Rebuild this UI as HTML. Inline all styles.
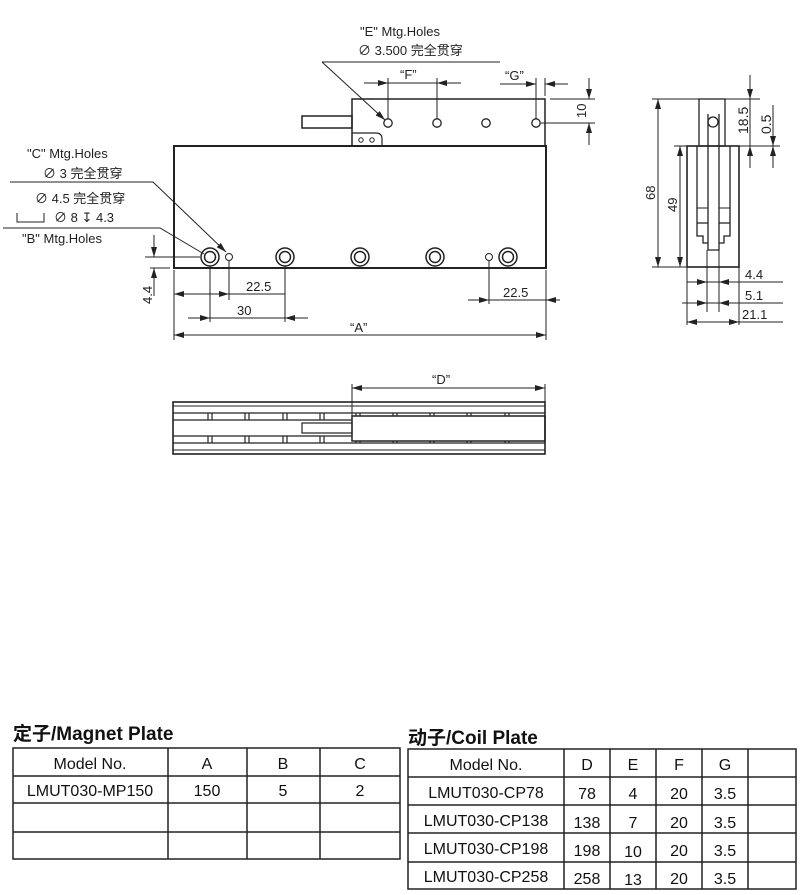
<!DOCTYPE html>
<html><head><meta charset="utf-8"><style>
html,body{margin:0;padding:0;background:#fff;}
svg{display:block;font-family:"Liberation Sans","Noto Sans CJK SC",sans-serif;}
</style></head><body>
<svg width="801" height="895" viewBox="0 0 801 895" xmlns="http://www.w3.org/2000/svg">
<defs>
<marker id="a" viewBox="0 0 10 6" refX="10" refY="3" markerWidth="10" markerHeight="6" orient="auto-start-reverse" markerUnits="userSpaceOnUse"><path d="M0,0 L10,3 L0,6z" fill="#222"/></marker>
</defs>
<g stroke="#222" fill="none" stroke-width="1">
<rect x="174" y="146" width="372" height="122" stroke-width="2"/>
<rect x="352" y="99" width="193" height="47" stroke-width="1.5"/>
<rect x="302" y="116" width="50" height="12" stroke-width="1.5"/>
<path d="M352,133 H376 Q382,133 382,139 V146" stroke-width="1.2"/>
<circle cx="361" cy="140" r="2.2"/><circle cx="372" cy="140" r="2.2"/>
<circle cx="388" cy="123" r="4.2" stroke-width="1.3"/>
<circle cx="437" cy="123" r="4.2" stroke-width="1.3"/>
<circle cx="486" cy="123" r="4.2" stroke-width="1.3"/>
<circle cx="536" cy="123" r="4.2" stroke-width="1.3"/>
<g stroke-width="1.5">
<circle cx="210" cy="257" r="9"/><circle cx="210" cy="257" r="5.5"/>
<circle cx="285" cy="257" r="9"/><circle cx="285" cy="257" r="5.5"/>
<circle cx="360" cy="257" r="9"/><circle cx="360" cy="257" r="5.5"/>
<circle cx="435" cy="257" r="9"/><circle cx="435" cy="257" r="5.5"/>
<circle cx="508" cy="257" r="9"/><circle cx="508" cy="257" r="5.5"/>
</g>
<circle cx="229" cy="257" r="3.5"/><circle cx="489" cy="257" r="3.5"/>
<path d="M322,62 H500"/><path d="M322,62 L385,120" marker-end="url(#a)"/>
<path d="M10,182 H153 L226,252" marker-end="url(#a)"/>
<path d="M3,228 H160 L204,254" />
<path d="M17,213 V222 H44 V213"/>
<path d="M364,83 H388" marker-end="url(#a)"/><path d="M461,83 H437" marker-end="url(#a)"/>
<path d="M388,83 H437"/>
<path d="M388,78 V119 M437,78 V119"/>
<path d="M500,84 H536" marker-end="url(#a)"/><path d="M568,84 H545" marker-end="url(#a)"/>
<path d="M536,78 V119 M545,78 V96"/>
<path d="M550,99 H595 M541,123 H595"/>
<path d="M589,78 V99" marker-end="url(#a)"/><path d="M589,145 V123" marker-end="url(#a)"/>
<path d="M145,257 H200 M150,268 H170"/>
<path d="M154,235 V257" marker-end="url(#a)"/><path d="M154,296 V268" marker-end="url(#a)"/>
<path d="M174,270 V340 M546,270 V340 M210,266 V322 M285,266 V322 M229,261 V300 M489,261 V304"/>
<path d="M174,294 H285"/><path d="M200,294 H174" marker-end="url(#a)"/><path d="M205,294 H229" marker-end="url(#a)"/>
<path d="M188,318 H308"/><path d="M188,318 H210" marker-end="url(#a)"/><path d="M308,318 H285" marker-end="url(#a)"/>
<path d="M174,335 H546" marker-start="url(#a)" marker-end="url(#a)"/>
<path d="M468,300 H560"/><path d="M468,300 H489" marker-end="url(#a)"/><path d="M560,300 H546" marker-end="url(#a)"/>
<rect x="699" y="99" width="26" height="47" stroke-width="1.3"/>
<circle cx="713" cy="122" r="5" stroke-width="1.3"/>
<path d="M708,114 V250 H719 V114" stroke-width="1.3"/>
<rect x="687" y="146" width="52" height="121" stroke-width="1.6"/>
<path d="M697,146 V223 H708 M730,146 V223 H719 M697,223 V236 H703 V243 H708 M730,223 V236 H724 V243 H719" stroke-width="1.3"/>
<path d="M697,208 H708 M719,208 H730"/>
<path d="M652,99 H699 M674,146 H687 M652,267 H687"/>
<path d="M658,99 V267" marker-start="url(#a)" marker-end="url(#a)"/>
<path d="M680,146 V267" marker-start="url(#a)" marker-end="url(#a)"/>
<path d="M725,99 H760 M739,146 H780"/>
<path d="M750,75 V99" marker-end="url(#a)"/><path d="M750,99 V146"/><path d="M750,168 V146" marker-end="url(#a)"/>
<path d="M773,105 V146" marker-end="url(#a)"/><path d="M773,168 V146" marker-end="url(#a)"/>
<path d="M687,267 V325 M739,267 V325 M707,250 V312 M719,250 V312"/>
<path d="M687,282 H783 M682,303 H783 M690,322 H783"/>
<path d="M687,282 H707" marker-end="url(#a)"/><path d="M739,282 H719" marker-end="url(#a)"/>
<path d="M682,303 H707" marker-end="url(#a)"/><path d="M739,303 H719" marker-end="url(#a)"/>
<path d="M687,322 H739" marker-start="url(#a)" marker-end="url(#a)"/>
<rect x="173" y="402" width="372" height="52" stroke-width="1.6"/>
<path d="M173,406 H545 M173,450 H545"/>
<g stroke-width="1.2">
<path d="M173,413 H352 M173,420 H352 M173,436 H352 M173,443 H352"/>
<path d="M208,413 V420 M212,413 V420 M245,413 V420 M249,413 V420 M283,413 V420 M287,413 V420 M320,413 V420 M324,413 V420"/>
<path d="M208,436 V443 M212,436 V443 M245,436 V443 M249,436 V443 M283,436 V443 M287,436 V443 M320,436 V443 M324,436 V443"/>
<path d="M352,413 H545 M352,443 H545 M356,413 V416 M360,413 V416 M393,413 V416 M397,413 V416 M430,413 V416 M434,413 V416 M467,413 V416 M471,413 V416 M505,413 V416 M509,413 V416"/>
<path d="M356,441 V443 M360,441 V443 M393,441 V443 M397,441 V443 M430,441 V443 M434,441 V443 M467,441 V443 M471,441 V443 M505,441 V443 M509,441 V443"/>
</g>
<rect x="352" y="416" width="193" height="25" stroke-width="1.5"/>
<rect x="302" y="423" width="50" height="10" stroke-width="1.2"/>
<path d="M352,384 V416 M545,384 V402"/>
<path d="M352,388 H545" marker-start="url(#a)" marker-end="url(#a)"/>
</g>
<g fill="#222" font-size="13">
<text x="360" y="36">"E" Mtg.Holes</text>
<text x="358" y="55">∅ 3.500 完全贯穿</text>
<text x="400" y="79">“F”</text>
<text x="505" y="80">“G”</text>
<text x="27" y="158">"C" Mtg.Holes</text>
<text x="43" y="178">∅ 3 完全贯穿</text>
<text x="35" y="203">∅ 4.5 完全贯穿</text>
<text x="54" y="222">∅ 8 ↧ 4.3</text>
<text x="22" y="243">"B" Mtg.Holes</text>
<text x="246" y="291">22.5</text>
<text x="237" y="315">30</text>
<text x="350" y="332">“A”</text>
<text x="503" y="297">22.5</text>
<text x="432" y="384">“D”</text>
<text transform="translate(586,118) rotate(-90)">10</text>
<text transform="translate(152,304) rotate(-90)">4.4</text>
<text transform="translate(655,200) rotate(-90)">68</text>
<text transform="translate(677,212) rotate(-90)">49</text>
<text transform="translate(748,134) rotate(-90)" font-size="14">18.5</text>
<text transform="translate(771,134) rotate(-90)" font-size="14">0.5</text>
<text x="745" y="279">4.4</text>
<text x="745" y="300">5.1</text>
<text x="742" y="319">21.1</text>
</g>
<g font-family="Liberation Sans Narrow, Liberation Sans, Noto Sans CJK SC, sans-serif" fill="#111">
<text x="13" y="740" font-size="19" font-weight="bold">定子/Magnet Plate</text>
<text x="408" y="744" font-size="19" font-weight="bold">动子/Coil Plate</text>
</g>
<g stroke="#222" stroke-width="1.5" fill="none">
<rect x="13" y="748" width="387" height="111"/>
<path d="M13,776 H400 M13,803 H400 M13,832 H400 M168,748 V859 M247,748 V859 M320,748 V859"/>
<rect x="408" y="749" width="388" height="140"/>
<path d="M408,777 H796 M408,805 H796 M408,833 H796 M408,862 H796 M564,749 V889 M610,749 V889 M656,749 V889 M702,749 V889 M748,749 V889"/>
</g>
<g font-size="16" fill="#111" text-anchor="middle" font-family="Liberation Sans Narrow, Liberation Sans, sans-serif">
<text x="90" y="769">Model No.</text><text x="207" y="769">A</text><text x="283" y="769">B</text><text x="360" y="769">C</text>
<text x="90" y="796">LMUT030-MP150</text><text x="207" y="796">150</text><text x="283" y="796">5</text><text x="360" y="796">2</text>
<text x="486" y="770">Model No.</text><text x="587" y="770">D</text><text x="633" y="770">E</text><text x="679" y="770">F</text><text x="725" y="770">G</text>
<text x="486" y="798">LMUT030-CP78</text><text x="587" y="799">78</text><text x="633" y="799">4</text><text x="679" y="799">20</text><text x="725" y="799">3.5</text>
<text x="486" y="826">LMUT030-CP138</text><text x="587" y="828">138</text><text x="633" y="828">7</text><text x="679" y="828">20</text><text x="725" y="828">3.5</text>
<text x="486" y="854">LMUT030-CP198</text><text x="587" y="856">198</text><text x="633" y="857">10</text><text x="679" y="856">20</text><text x="725" y="856">3.5</text>
<text x="486" y="882">LMUT030-CP258</text><text x="587" y="884">258</text><text x="633" y="885">13</text><text x="679" y="884">20</text><text x="725" y="884">3.5</text>
</g>
</svg>
</body></html>
